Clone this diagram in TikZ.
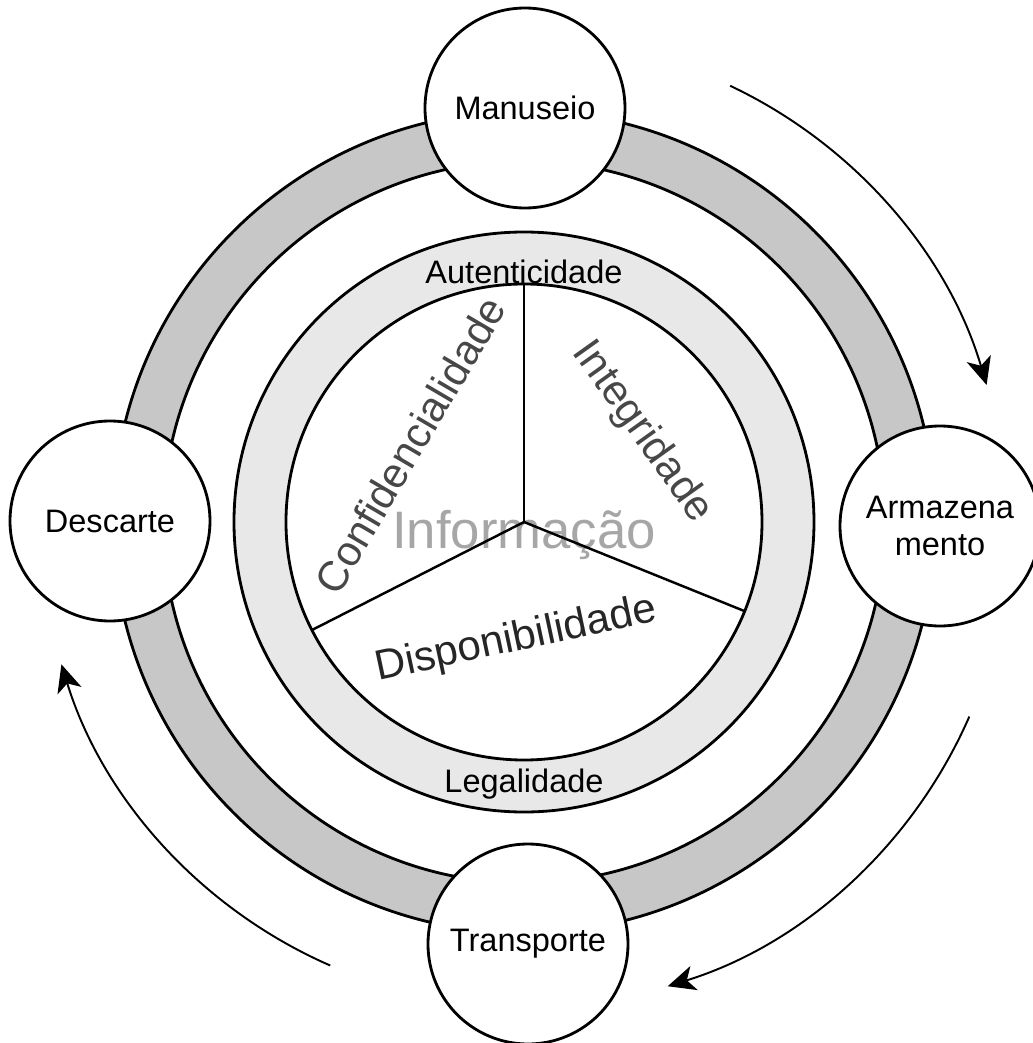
\documentclass[tikz,border=0pt]{standalone}
\usepackage{fontspec}
\setmainfont{Liberation Sans}
\usetikzlibrary{arrows.meta}
\tikzset{
  stage/.style={circle, draw, line width=1.6pt, fill=white, minimum size=4cm, inner sep=0pt, align=center, font=\fontsize{18.5}{21.5}\selectfont},
  outerband/.style={draw, line width=1.6pt, fill=black!22, even odd rule},
  innerband/.style={draw, line width=1.6pt, fill=black!9, even odd rule},
  ringlabel/.style={anchor=base, font=\fontsize{18.5}{21.5}\selectfont},
  pillar/.style={text=black!72, font=\fontsize{24}{28}\selectfont},
  sector/.style={line width=1.4pt},
  cycle/.style={line width=1.1pt, -{Stealth[length=5.5mm,width=5mm,inset=1.5mm]}}
}
\begin{document}
\begin{tikzpicture}
  \useasboundingbox (-10.48,-10.42) rectangle (10.18,10.44);

  \draw[outerband] (0,0) circle (8.22) (0,0) circle (7.22);
  \draw[innerband] (0,0) circle (5.8) (0,0) circle (4.76);

  \node[anchor=base, text=black!35, font=\fontsize{30}{34}\selectfont] (info) at (0,-0.52) {Informação};

  \coordinate (hub) at (0,0);
  \coordinate (top) at (90:4.76);
  \coordinate (right) at (-22:4.76);
  \coordinate (left) at (207:4.76);
  \draw[sector] (hub) -- (top);
  \draw[sector] (hub) -- (right);
  \draw[sector] (hub) -- (left);

  \node[ringlabel] (autent) at (0,4.78) {Autenticidade};
  \node[ringlabel] (legal) at (0,-5.4) {Legalidade};

  \node[pillar, rotate=59.6] (conf) at (-2.28,1.54) {Confidencialidade};
  \node[pillar, rotate=-54.5] (integ) at (2.36,1.8) {Integridade};
  \node[pillar, rotate=12, text=black!85] (disp) at (-0.16,-2.36) {Disponibilidade};

  \node[stage] (manuseio) at (0.02,8.28) {Manuseio};
  \node[stage] (armaz) at (8.32,-0.08) {Armazena\\mento};
  \node[stage] (transp) at (0.08,-8.44) {Transporte};
  \node[stage] (descarte) at (-8.28,0.02) {Descarte};

  \coordinate (c1) at (64.7:9.65);
  \coordinate (c2) at (-23.6:9.72);
  \coordinate (c3) at (246.4:9.68);
  \draw[cycle] (c1) arc[start angle=64.7, end angle=16.5, radius=9.65];
  \draw[cycle] (c2) arc[start angle=-23.6, end angle=-72.8, radius=9.72];
  \draw[cycle] (c3) arc[start angle=246.4, end angle=197.1, radius=9.68];
\end{tikzpicture}
\end{document}
